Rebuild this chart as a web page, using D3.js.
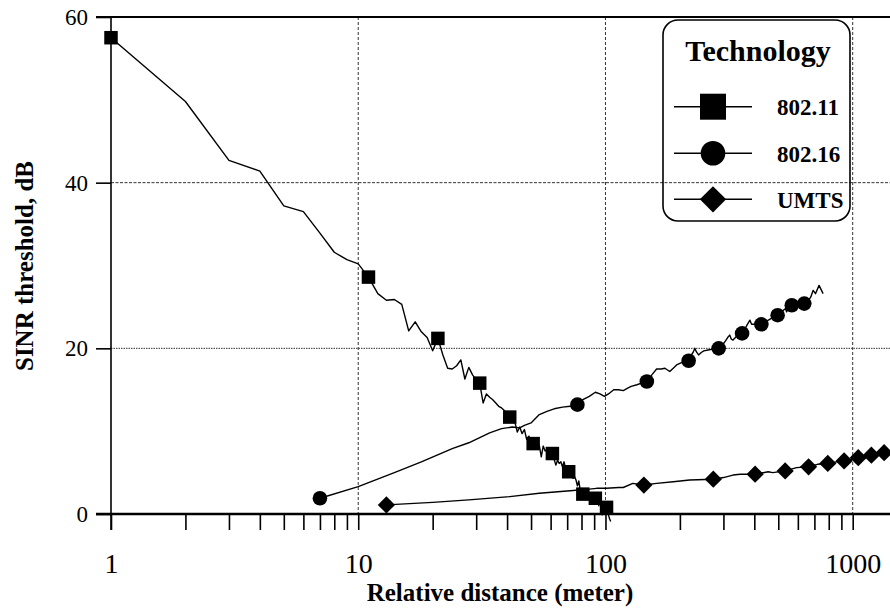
<!DOCTYPE html>
<html><head><meta charset="utf-8">
<script src="https://cdn.jsdelivr.net/npm/d3@7"></script>
<style>body{margin:0;background:#fff} svg{display:block;overflow:hidden}</style>
</head><body><svg id="c" width="890" height="610"></svg>
<script>
// ---- data ----
const xMajorTicks = [1, 10, 100, 1000];
const xMinorTicks = [2,3,4,5,6,7,8,9,20,30,40,50,60,70,80,90,200,300,400,500,600,700,800,900];
const xGridValues = [10, 100, 1000];
const yTicks = [0, 20, 40, 60];
const yGridValues = [20, 40];
const seriesNames = ["802.11", "802.16", "UMTS"];

const line80211 = [[1,57.5],[2,49.8],[3,42.7],[4,41.4],[5,37.2],[6,36.5],[7,33.9],[8,31.6],[9,30.7],[10,30.2],
 [11,28.6],[12,26.6],[13,25.8],[14,25.9],[15,25.3],[16,22.1],[17,23.2],[18,22.0],[19,21.3],[20,19.7],
 [21,21.2],[22,19.2],[23,17.6],[24,17.5],[25,17.9],[26,18.6],[27,16.3],[28,17.7],[29,16.8],[30,16.2],
 [31,15.8],[32,13.4],[33,14.5],[34,14.1],[35,13.8],[36,13.4],[37,13.0],[38,12.8],[39,12.5],[40,12.1],
 [41,11.7],[42,11.4],[43,11.1],[44,9.9],[45,10.5],[46,9.7],[47,10.2],[48,9.0],[49,9.4],[50,8.8],
 [51,8.5],[52,8.4],[53,7.9],[54,8.3],[55,6.9],[56,8.2],[57,7.6],[58,7.8],[59,7.0],[60,7.4],
 [61,7.3],[62,6.6],[63,5.9],[64,6.5],[65,6.1],[66,6.3],[67,5.7],[68,6.3],[69,5.5],[70,5.4],
 [71,5.1],[72,4.9],[73,4.6],[74,4.3],[75,4.5],[76,4.1],[77,3.4],[78,4.0],[79,2.9],[80,2.6],
 [81,2.4],[82,3.0],[83,2.2],[84,2.5],[85,2.0],[86,2.6],[87,1.8],[88,2.1],[89,1.6],[90,2.0],
 [91,1.9],[92,1.3],[93,1.8],[94,1.0],[95,2.3],[96,0.6],[97,-0.1],[98,1.1],[99,1.4],[100,0.4],
 [101,0.8],[102,0.3],[103,-0.2],[104,-0.6],[105,-0.9]];
const marks80211 = [[1,57.5],[11,28.6],[21,21.2],[31,15.8],[41,11.7],[51,8.5],[61,7.3],[71,5.1],[81,2.4],[91,1.9],[101,0.8]];

const line80216 = [[7,1.9],[10,3.3],[14,5.0],[18,6.3],[24,7.9],[28,8.6],[34,9.8],[38,10.3],[42,10.5],[45,10.4],
 [47,10.7],[50,11.0],[54,12.0],[58,12.4],[62,12.7],[67,12.9],[72,13.0],[77,13.2],[81,13.8],[86,14.2],
 [91,14.7],[95,14.5],[99,14.2],[104,14.6],[108,15.0],[113,15.0],[118,14.9],[123,15.2],[127,15.4],[134,15.6],
 [140,15.8],[147,16.0],[154,16.8],[161,17.5],[168,17.5],[174,17.6],[182,17.2],[188,17.6],[194,18.0],[204,18.3],
 [213,18.5],[220,19.0],[226,19.5],[230,20.0],[233,19.6],[238,19.2],[244,19.5],[250,19.7],[260,19.8],[272,19.9],
 [287,20.0],[297,20.4],[306,20.9],[312,21.3],[318,21.6],[323,21.1],[328,21.0],[340,21.5],[357,21.8],[366,22.3],
 [375,22.9],[384,23.4],[390,22.9],[400,22.9],[427,22.9],[440,23.2],[456,23.4],[475,23.7],[497,24.0],[515,24.4],
 [535,24.8],[540,24.4],[552,25.0],[567,25.2],[585,25.3],[600,25.4],[620,25.3],[637,25.4],[660,25.7],[677,26.2],
 [692,27.0],[707,26.6],[731,27.6],[759,26.6]];
const marks80216 = [[7,1.9],[77,13.2],[147,16.0],[217,18.5],[287,20.0],[357,21.8],[427,22.9],[497,24.0],[567,25.2],[637,25.4]];

const lineUMTS = [[13,1.1],[20,1.4],[28,1.7],[41,2.1],[54,2.5],[72,2.8],[86,3.0],[92,3.1],[101,3.1],[113,3.2],
 [118,3.2],[129,3.7],[143,3.5],[161,3.7],[188,3.9],[219,4.1],[273,4.2],[300,4.4],[328,4.7],[351,4.8],
 [403,4.8],[455,5.1],[475,5.0],[533,5.2],[593,5.6],[663,5.7],[720,6.0],[793,6.1],[860,6.3],[923,6.4],
 [990,6.6],[1053,6.8],[1120,6.9],[1190,7.1],[1260,7.3],[1340,7.4],[1420,7.6]];
const marksUMTS = [[13,1.1],[143,3.5],[273,4.2],[403,4.8],[533,5.2],[663,5.7],[793,6.1],[923,6.4],[1053,6.8],[1190,7.1],[1340,7.4]];

// ---- drawing ----
const svg = d3.select("#c");
const x = d3.scaleLog().domain([1, 1000]).range([111, 852.7]);
const y = d3.scaleLinear().domain([0, 60]).range([514, 17]);
const serif = "'Liberation Serif','Times New Roman',Times,serif";
const xRight = 890;

// grid
svg.append("g").selectAll("line").data(xGridValues).join("line")
  .attr("x1", d => x(d)).attr("x2", d => x(d)).attr("y1", y(60)).attr("y2", y(0))
  .attr("stroke", "#333").attr("stroke-width", 1).attr("stroke-dasharray", "3,2");
svg.append("g").selectAll("line").data(yGridValues).join("line")
  .attr("x1", x(1)).attr("x2", xRight).attr("y1", d => y(d)).attr("y2", d => y(d))
  .attr("stroke", "#333").attr("stroke-width", 1).attr("stroke-dasharray", d => d === 40 ? "3,1.5" : "1.5,1");

// axes
const xAxisMinor = d3.axisBottom(x).tickValues(xMinorTicks).tickSize(16).tickFormat("");
const xAxisMajor = d3.axisBottom(x).tickValues(xMajorTicks).tickSize(16).tickPadding(23).tickFormat(d3.format("d"));
const gxm = svg.append("g").attr("transform", `translate(0,${y(0)})`).call(xAxisMinor);
const gx = svg.append("g").attr("transform", `translate(0,${y(0)})`).call(xAxisMajor);
[gxm, gx].forEach(g => { g.select(".domain").remove(); g.selectAll(".tick line").attr("stroke", "#000").attr("stroke-width", 1.6); });
gx.selectAll(".tick text").attr("font-family", serif).attr("font-size", 28).attr("fill", "#000");

const yAxis = d3.axisLeft(y).tickValues(yTicks).tickSize(15).tickPadding(8).tickFormat(d3.format("d"));
const gy = svg.append("g").attr("transform", `translate(${x(1)},0)`).call(yAxis);
gy.select(".domain").remove();
gy.selectAll(".tick line").attr("stroke", "#000").attr("stroke-width", 1.6);
gy.selectAll(".tick text").attr("font-family", serif).attr("font-size", 23).attr("fill", "#000");

// axis lines
svg.append("line").attr("x1", x(1)).attr("x2", x(1)).attr("y1", y(60)).attr("y2", y(0) + 16)
  .attr("stroke", "#000").attr("stroke-width", 1.6);
svg.append("line").attr("x1", x(1) - 15).attr("x2", xRight).attr("y1", y(0)).attr("y2", y(0))
  .attr("stroke", "#000").attr("stroke-width", 2.4);
svg.append("line").attr("x1", x(1) - 15).attr("x2", xRight).attr("y1", y(60)).attr("y2", y(60))
  .attr("stroke", "#000").attr("stroke-width", 2);

// titles
svg.append("text").attr("x", 500).attr("y", 601).attr("text-anchor", "middle")
  .attr("font-family", serif).attr("font-weight", "bold").attr("font-size", 25).text("Relative distance (meter)");
svg.append("text").attr("transform", "translate(33,266) rotate(-90)").attr("text-anchor", "middle")
  .attr("font-family", serif).attr("font-weight", "bold").attr("font-size", 25).text("SINR threshold, dB");

// lines
const lineGen = d3.line().x(d => x(d[0])).y(d => y(d[1]));
[line80211, line80216, lineUMTS].forEach(data => {
  svg.append("path").datum(data).attr("d", lineGen).attr("fill", "none")
    .attr("stroke", "#000").attr("stroke-width", 1.4).attr("stroke-linejoin", "round");
});

// markers
const symSquare = d3.symbol().type(d3.symbolSquare);
const symCircle = d3.symbol().type(d3.symbolCircle);
function marks(data, path, rot) {
  svg.append("g").selectAll("path").data(data).join("path")
    .attr("transform", d => `translate(${x(d[0])},${y(d[1])}) rotate(${rot})`)
    .attr("d", path).attr("fill", "#000");
}
marks(marks80211, symSquare.size(13.5 * 13.5)(), 0);
marks(marks80216, symCircle.size(Math.PI * 7.3 * 7.3)(), 0);
marks(marksUMTS, symSquare.size(12.2 * 12.2)(), 45);

// legend
const lg = svg.append("g");
lg.append("rect").attr("x", 663).attr("y", 20).attr("width", 187).attr("height", 201)
  .attr("rx", 15).attr("fill", "none").attr("stroke", "#000").attr("stroke-width", 1.6);
lg.append("text").attr("x", 758).attr("y", 61).attr("text-anchor", "middle")
  .attr("font-family", serif).attr("font-weight", "bold").attr("font-size", 30).text("Technology");
const legendRows = [106.7, 153.3, 199.3];
const legendGens = [symSquare.size(26 * 26)(), symCircle.size(Math.PI * 12.3 * 12.3)(), symSquare.size(18.6 * 18.6)()];
const legendRot = [0, 0, 45];
seriesNames.forEach((name, i) => {
  const yy = legendRows[i];
  lg.append("line").attr("x1", 674).attr("x2", 752).attr("y1", yy).attr("y2", yy)
    .attr("stroke", "#000").attr("stroke-width", 1.4);
  lg.append("path").attr("transform", `translate(713,${yy}) rotate(${legendRot[i]})`).attr("d", legendGens[i]).attr("fill", "#000");
  lg.append("text").attr("x", 777).attr("y", yy + 8.3)
    .attr("font-family", serif).attr("font-weight", "bold").attr("font-size", 23).text(name);
});
</script></body></html>
